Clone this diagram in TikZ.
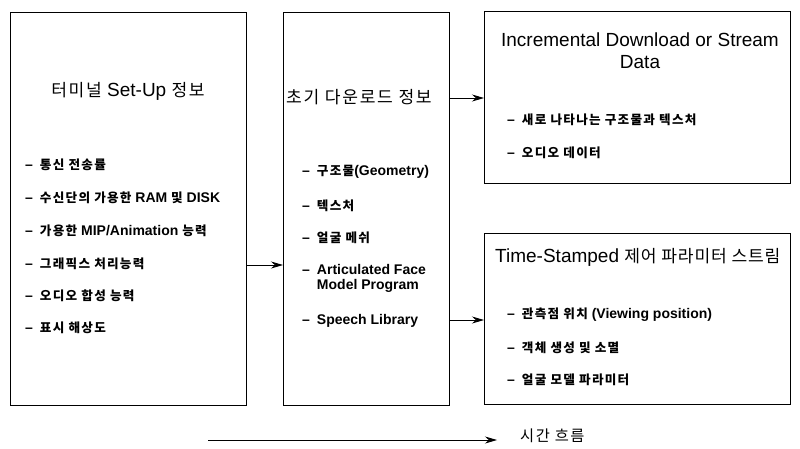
\documentclass[tikz,border=0pt]{standalone}
\usepackage{fontspec}
\setmainfont{Liberation Sans}
\newfontfamily\kr[Scale=0.9,LetterSpace=10]{Noto Sans CJK KR}
\newfontfamily\krn[Scale=0.9,LetterSpace=5]{Noto Sans CJK KR}
\newfontfamily\krb[Scale=0.9,LetterSpace=10]{Noto Sans CJK KR Bold}
\newcommand{\K}[1]{{\kr #1}}
\newcommand{\KN}[1]{{\krn #1}}
\newcommand{\KB}[1]{{\krb #1}}
\newcommand{\D}{–\hspace{7pt}}
\usetikzlibrary{arrows.meta}
\begin{document}
\begin{tikzpicture}[x=1pt,y=-1pt,
  box/.style={draw=black,line width=1.2pt,anchor=north west,inner sep=0pt},
  ttl/.style={font=\fontsize{19}{22}\selectfont,inner sep=0pt,align=center},
  itm/.style={font=\fontsize{14}{15.5}\selectfont\bfseries,anchor=west,inner sep=0pt,align=left},
  arr/.style={line width=0.9pt,-{Stealth[length=12pt,width=7pt]}}]
\useasboundingbox (0,0) rectangle (800,448);
% boxes
\node[box,minimum width=236pt,minimum height=393pt] (L) at (10,12) {};
\node[box,minimum width=166pt,minimum height=393pt] (M) at (283,12) {};
\node[box,minimum width=306pt,minimum height=172pt] (TR) at (484,11) {};
\node[box,minimum width=306pt,minimum height=171pt] (BR) at (484,233) {};
% left box text
\node[ttl] (Lt) at (128,91) {\K{터미널} Set-Up \K{정보}};
\node[itm] (L1) at (25,165) {\D\KB{통신 전송률}};
\node[itm] (L2) at (25,198) {\D\KB{수신단의 가용한} RAM \KB{및} DISK};
\node[itm] (L3) at (25,231) {\D\KB{가용한} MIP/Animation \KB{능력}};
\node[itm] (L4) at (25,264) {\D\KB{그래픽스 처리능력}};
\node[itm] (L5) at (25,296) {\D\KB{오디오 합성 능력}};
\node[itm] (L6) at (25,328) {\D\KB{표시 해상도}};
% middle box text
\node[ttl,anchor=west] (Mt) at (286,97) {\K{초기 다운로드 정보}};
\node[itm] (M1) at (302,172) {\D\KB{구조물}(Geometry)};
\node[itm] (M2) at (302,206) {\D\KB{텍스처}};
\node[itm] (M3) at (302,238) {\D\KB{얼굴 메쉬}};
\node[itm] (M4) at (302,278.5) {\D Articulated Face\\\phantom{\D}Model Program};
\node[itm] (M5) at (302,321) {\D Speech Library};
% top right text
\node[ttl] (Tt) at (640,51) {Incremental Download or Stream\\Data};
\node[itm] (T1) at (507,120) {\D\KB{새로 나타나는 구조물과 텍스처}};
\node[itm] (T2) at (507,153) {\D\KB{오디오 데이터}};
% bottom right text
\node[ttl,anchor=west] (Bt) at (495,257) {Time-Stamped \KN{제어 파라미터 스트림}};
\node[itm] (B1) at (507,315) {\D\KB{관측점 위치} (Viewing position)};
\node[itm] (B2) at (507,348) {\D\KB{객체 생성 및 소멸}};
\node[itm] (B3) at (507,380) {\D\KB{얼굴 모델 파라미터}};
% arrows
\draw[arr] (L.east |- 0,265) -- (M.west |- 0,265);
\draw[arr] (M.east |- 0,98) -- (TR.west |- 0,98);
\draw[arr] (M.east |- 0,320) -- (BR.west |- 0,320);
% time arrow
\coordinate (t1) at (208,440);
\coordinate (t2) at (497,440);
\draw[arr] (t1) -- (t2);
\node[font=\fontsize{17}{19}\selectfont,anchor=west,inner sep=0pt] (tl) at (520,436) {\K{시간 흐름}};
\end{tikzpicture}
\end{document}
